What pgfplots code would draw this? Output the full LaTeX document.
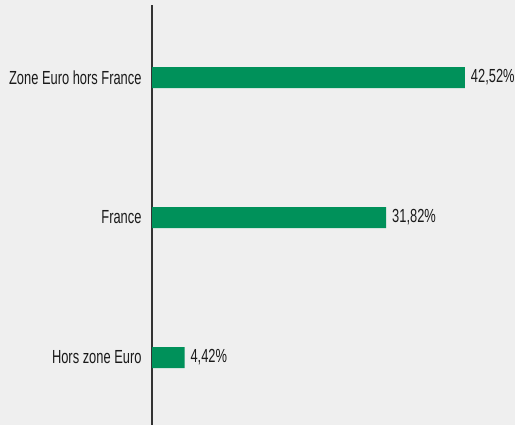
\documentclass[border=0pt]{standalone}
\usepackage{fontspec}
\setmainfont{Liberation Sans}[FakeStretch=0.68]
\usepackage{pgfplots}
\pgfplotsset{compat=1.18}
\definecolor{bg}{HTML}{EFEFEF}
\definecolor{barg}{HTML}{00915A}
\definecolor{txt}{HTML}{1A1A1A}
\definecolor{axl}{HTML}{333333}
\begin{document}
\begin{tikzpicture}
\fill[bg] (0,0) rectangle (515bp,425bp);
\useasboundingbox (0,0) rectangle (515bp,425bp);
\begin{axis}[
    at={(152bp,0)}, anchor=south west,
    scale only axis,
    width=363bp, height=420bp,
    xbar,
    bar width=21bp,
    xmin=0, xmax=49.32,
    ymin=-0.482, ymax=2.518,
    axis x line=none,
    axis y line*=left,
    y axis line style={axl, line width=1.5pt, -},
    ytick={0,1,2},
    yticklabels={Hors zone Euro,France,Zone Euro hors France},
    major tick length=0pt,
    yticklabel style={font=\fontsize{19}{21}\selectfont, text=txt, xshift=-7bp},
    /pgf/number format/assume math mode=true,
    point meta=x,
    nodes near coords={\pgfmathprintnumber[fixed,fixed zerofill,precision=2,use comma]{\pgfplotspointmeta}\%},
    nodes near coords style={font=\fontsize{19}{21}\selectfont, text=txt, xshift=2.5bp},
]
\addplot[fill=barg, draw=none] coordinates {(4.42,0) (31.82,1) (42.52,2)};
\end{axis}
\end{tikzpicture}
\end{document}
